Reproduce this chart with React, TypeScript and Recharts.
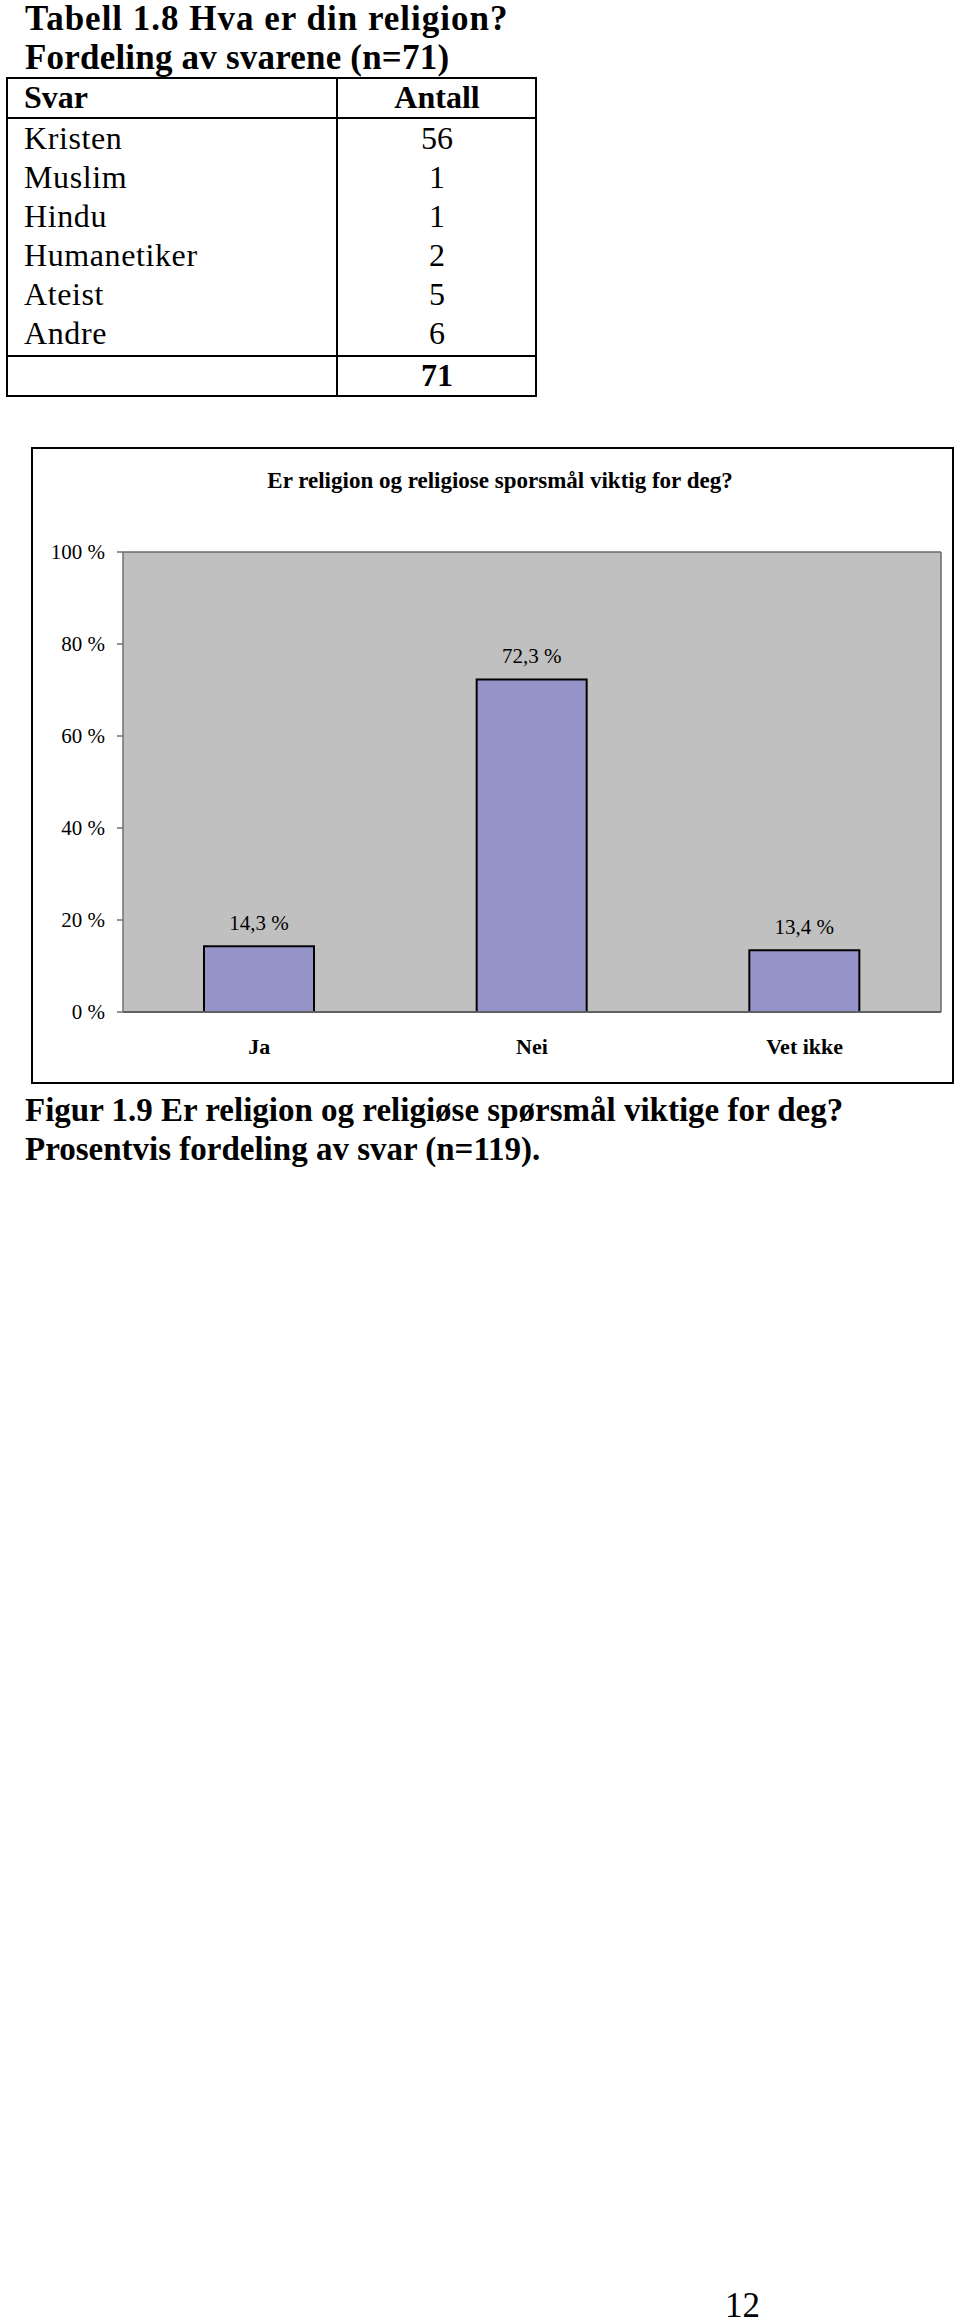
import React from 'react';
import { BarChart, Bar, XAxis, YAxis, CartesianGrid, LabelList } from 'recharts';

// table: Tabell 1.8
const svarLabels = ['Kristen', 'Muslim', 'Hindu', 'Humanetiker', 'Ateist', 'Andre'];
const svarCounts = [56, 1, 1, 2, 5, 6];
const svarTotal = 71;

// chart: Figur 1.9
const categories = ['Ja', 'Nei', 'Vet ikke'];
const percents = [14.3, 72.3, 13.4];
const yTicks = [0, 20, 40, 60, 80, 100];
const edgeTicks = [0, 1, 2, 3];

const chartData = categories.map((name, i) => ({ name, value: percents[i] }));

const FONT = '"Liberation Serif", "Times New Roman", serif';

// text placed by its baseline
const Txt: React.FC<{ x: number; y: number; size: number; bold?: boolean; center?: boolean; ls?: number; children: React.ReactNode }> = ({ x, y, size, bold, center, ls, children }) => (
    <div
        style={{
            position: 'absolute',
            left: x,
            top: y - 0.8375 * size,
            fontSize: size,
            lineHeight: 1,
            fontWeight: bold ? 'bold' : 'normal',
            letterSpacing: ls,
            whiteSpace: 'nowrap',
            transform: center ? 'translateX(-50%)' : undefined,
        }}
    >
        {children}
    </div>
);

const HLine = ({ x, y, w }: { x: number; y: number; w: number }) => (
    <div style={{ position: 'absolute', left: x, top: y - 1, width: w, height: 2, background: '#000' }} />
);
const VLine = ({ x, y, h }: { x: number; y: number; h: number }) => (
    <div style={{ position: 'absolute', left: x - 1, top: y, width: 2, height: h, background: '#000' }} />
);

const fmtPct = (v: any) => `${String(v).replace('.', ',')} %`;

const App: React.FC = () => {
    const rowTop = 149;
    const rowStep = 39;
    return (
        <div style={{ position: 'absolute', left: 0, top: 0, width: 960, height: 2321, background: '#fff', fontFamily: FONT, color: '#000' }}>
            <Txt x={25} y={30} size={35} bold ls={1}>Tabell 1.8 Hva er din religion?</Txt>
            <Txt x={25} y={69} size={35} bold ls={0.2}>Fordeling av svarene (n=71)</Txt>

            {/* table grid */}
            <HLine x={6} y={78} w={531} />
            <HLine x={6} y={118} w={531} />
            <HLine x={6} y={356} w={531} />
            <HLine x={6} y={396} w={531} />
            <VLine x={7} y={78} h={318} />
            <VLine x={337} y={78} h={318} />
            <VLine x={536} y={78} h={318} />

            <Txt x={24} y={108} size={32} bold>Svar</Txt>
            <Txt x={437} y={108} size={32} bold center>Antall</Txt>
            {svarLabels.map((lab, i) => (
                <React.Fragment key={lab}>
                    <Txt x={24} y={rowTop + i * rowStep} size={32} ls={0.6}>{lab}</Txt>
                    <Txt x={437} y={rowTop + i * rowStep} size={32} center>{svarCounts[i]}</Txt>
                </React.Fragment>
            ))}
            <Txt x={437} y={386} size={32} bold center>{svarTotal}</Txt>

            {/* chart box */}
            <div style={{ position: 'absolute', left: 31, top: 447, width: 923, height: 637, border: '2px solid #000', boxSizing: 'border-box' }}>
                <BarChart
                    width={919}
                    height={633}
                    data={chartData}
                    margin={{ top: 103, right: 11, bottom: 0, left: 0 }}
                    style={{ fontFamily: FONT }}
                >
                    <CartesianGrid
                        xAxisId="cat"
                        fill="#C0C0C0"
                        stroke="#6a6a6a"
                        strokeWidth={1.5}
                        horizontalCoordinatesGenerator={({ offset }: any) => [offset.top]}
                        verticalCoordinatesGenerator={({ offset }: any) => [offset.left + offset.width]}
                    />
                    <XAxis
                        xAxisId="edge"
                        type="number"
                        domain={[0, 3]}
                        ticks={edgeTicks}
                        allowDataOverflow
                        height={0}
                        tick={false}
                        axisLine={false}
                        tickLine={{ stroke: '#707070', strokeWidth: 1.5 }}
                        tickSize={7}
                    />
                    <XAxis
                        xAxisId="cat"
                        dataKey="name"
                        height={70}
                        tickLine={false}
                        tickSize={0}
                        tickMargin={26}
                        axisLine={{ stroke: '#606060', strokeWidth: 2 }}
                        tick={{ fill: '#000', fontSize: 22, fontWeight: 'bold', fontFamily: FONT }}
                    />
                    <YAxis
                        width={90}
                        domain={[0, 100]}
                        ticks={yTicks}
                        tickFormatter={(v) => `${v} %`}
                        tickSize={6}
                        tickMargin={12}
                        axisLine={{ stroke: '#707070', strokeWidth: 1.5 }}
                        tickLine={{ stroke: '#707070', strokeWidth: 1.5 }}
                        tick={{ fill: '#000', fontSize: 21, fontFamily: FONT }}
                    />
                    <Bar
                        xAxisId="cat"
                        dataKey="value"
                        fill="#9494C8"
                        stroke="#000"
                        strokeWidth={2}
                        barSize={110}
                        isAnimationActive={false}
                    >
                        <LabelList
                            dataKey="value"
                            position="top"
                            offset={16}
                            formatter={fmtPct}
                            style={{ fill: '#000', fontSize: 21, fontFamily: FONT }}
                        />
                    </Bar>
                </BarChart>
            </div>
            <Txt x={500} y={488} size={23} bold center>Er religion og religiose sporsmål viktig for deg?</Txt>

            <Txt x={25} y={1122} size={33} bold>Figur 1.9 Er religion og religiøse spørsmål viktige for deg?</Txt>
            <Txt x={25} y={1161} size={33} bold>Prosentvis fordeling av svar (n=119).</Txt>

            <Txt x={725} y={2317} size={35}>12</Txt>
        </div>
    );
};

export default App;
